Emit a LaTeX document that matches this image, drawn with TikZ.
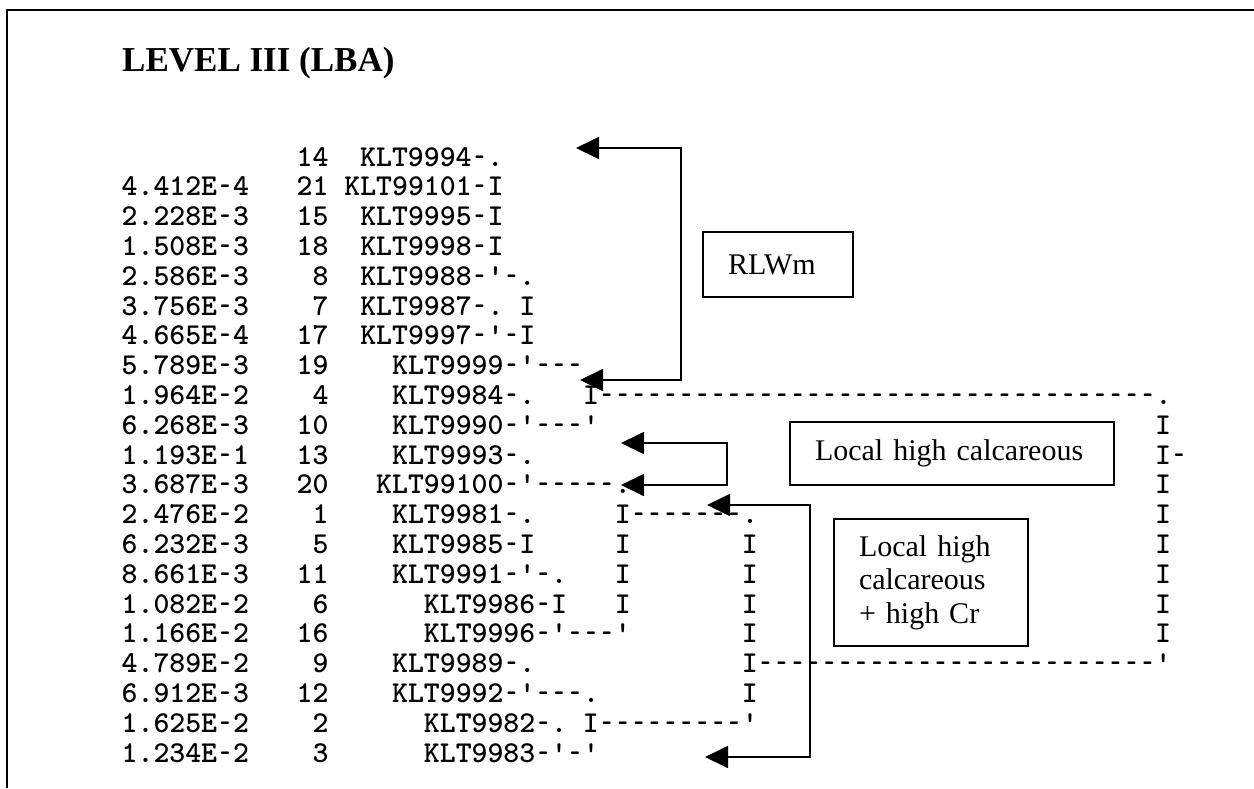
\documentclass[tikz,border=0pt]{standalone}
\usepackage{fontspec}
\usepackage{graphicx}
\setmainfont{Liberation Serif}
\newfontfamily\monofnt{lmmonolt10-bold}[Extension=.otf]
\usetikzlibrary{arrows.meta}
\def\rep#1#2{\ifnum#1>0 #2\expandafter\rep\expandafter{\the\numexpr#1-1}{#2}\fi}
\newcommand\hy{\makebox[0.525em][c]{\scalebox{0.62}[1]{-}}}
\newcommand\rowtxt[4]{\node[mono] (#1) at ({121.5+15.9*#3},{157+29.8*(#2-1)+9}) {#4};}
\begin{document}
\begin{tikzpicture}[x=1pt,y=-1pt,
  mono/.style={font=\monofnt\fontsize{30.3pt}{30.3pt}\selectfont, inner sep=0pt, anchor=base west},
  lbl/.style={draw, line width=2pt, font=\fontsize{30pt}{33.5pt}\selectfont, align=left, inner xsep=25pt, inner ysep=0pt},
  arr/.style={line width=1.8pt, {Triangle[length=23pt,width=22pt]}-{Triangle[length=23pt,width=22pt]}},
  frame/.style={line width=2pt}]
\useasboundingbox (0,0) rectangle (1254,788);
\draw[frame] (6.5,788) -- (6.5,10) -- (1254,10);
\node[anchor=base west, font=\bfseries\fontsize{35pt}{35pt}\selectfont, inner sep=0pt] (title) at (122,71) {LEVEL III (LBA)};
% dendrogram text
\rowtxt{n1}{1}{11}{14~~KLT9994\hy.}
\rowtxt{n2}{2}{0}{4.412E\hy4~~~21~KLT99101\hy I}
\rowtxt{n3}{3}{0}{2.228E\hy3~~~15~~KLT9995\hy I}
\rowtxt{n4}{4}{0}{1.508E\hy3~~~18~~KLT9998\hy I}
\rowtxt{n5}{5}{0}{2.586E\hy3~~~~8~~KLT9988\hy'\hy.}
\rowtxt{n6}{6}{0}{3.756E\hy3~~~~7~~KLT9987\hy.~I}
\rowtxt{n7}{7}{0}{4.665E\hy4~~~17~~KLT9997\hy'\hy I}
\rowtxt{n8}{8}{0}{5.789E\hy3~~~19~~~~KLT9999\hy'\hy\hy\hy}
\rowtxt{n9}{9}{0}{1.964E\hy2~~~~4~~~~KLT9984\hy.~~~I\rep{35}{\hy}.}
\rowtxt{n10}{10}{0}{6.268E\hy3~~~10~~~~KLT9990\hy'\hy\hy\hy'}
\rowtxt{n11}{11}{0}{1.193E\hy1~~~13~~~~KLT9993\hy.}
\rowtxt{n12}{12}{0}{3.687E\hy3~~~20~~~KLT99100\hy'\rep{5}{\hy}.}
\rowtxt{n13}{13}{0}{2.476E\hy2~~~~1~~~~KLT9981\hy.~~~~~I\rep{7}{\hy}.}
\rowtxt{n14}{14}{0}{6.232E\hy3~~~~5~~~~KLT9985\hy I~~~~~I}
\rowtxt{n15}{15}{0}{8.661E\hy3~~~11~~~~KLT9991\hy'\hy.~~~I}
\rowtxt{n16}{16}{0}{1.082E\hy2~~~~6~~~~~~KLT9986\hy I~~~I}
\rowtxt{n17}{17}{0}{1.166E\hy2~~~16~~~~~~KLT9996\hy'\hy\hy\hy'}
\rowtxt{n18}{18}{0}{4.789E\hy2~~~~9~~~~KLT9989\hy.}
\rowtxt{n19}{19}{0}{6.912E\hy3~~~12~~~~KLT9992\hy'\hy\hy\hy.}
\rowtxt{n20}{20}{0}{1.625E\hy2~~~~2~~~~~~KLT9982\hy.~I\rep{9}{\hy}'}
\rowtxt{n21}{21}{0}{1.234E\hy2~~~~3~~~~~~KLT9983\hy'\hy'}
% column M (39)
\rowtxt{m14}{14}{39}{I}
\rowtxt{m15}{15}{39}{I}
\rowtxt{m16}{16}{39}{I}
\rowtxt{m17}{17}{39}{I}
\rowtxt{m18}{18}{39}{I\rep{25}{\hy}'}
\rowtxt{m19}{19}{39}{I}
% column R (65)
\rowtxt{r10}{10}{65}{I}
\rowtxt{r11}{11}{65}{I\hy}
\rowtxt{r12}{12}{65}{I}
\rowtxt{r13}{13}{65}{I}
\rowtxt{r14}{14}{65}{I}
\rowtxt{r15}{15}{65}{I}
\rowtxt{r16}{16}{65}{I}
\rowtxt{r17}{17}{65}{I}
% label boxes
\node[lbl, text width=100pt, minimum height=65pt] (rlwm) at (778,264.5) {RLWm};
\node[lbl, text width=274pt, minimum height=63pt] (calc) at (952,453.5) {Local high calcareous};
\node[lbl, text width=144pt, minimum height=127pt] (calccr) at (931,582.5) {Local high\\calcareous\\+ high Cr};
% arrows
\coordinate (a1t) at (576,148); \coordinate (a1v) at (681,148); \coordinate (a1b) at (580,380);
\draw[arr] (a1t) -- (a1v) |- (a1b);
\coordinate (a2t) at (621,443); \coordinate (a2v) at (727,443); \coordinate (a2b) at (621,485);
\draw[arr] (a2t) -- (a2v) |- (a2b);
\coordinate (a3t) at (707,505); \coordinate (a3v) at (810,505); \coordinate (a3b) at (705,757);
\draw[arr] (a3t) -- (a3v) |- (a3b);
\end{tikzpicture}
\end{document}
